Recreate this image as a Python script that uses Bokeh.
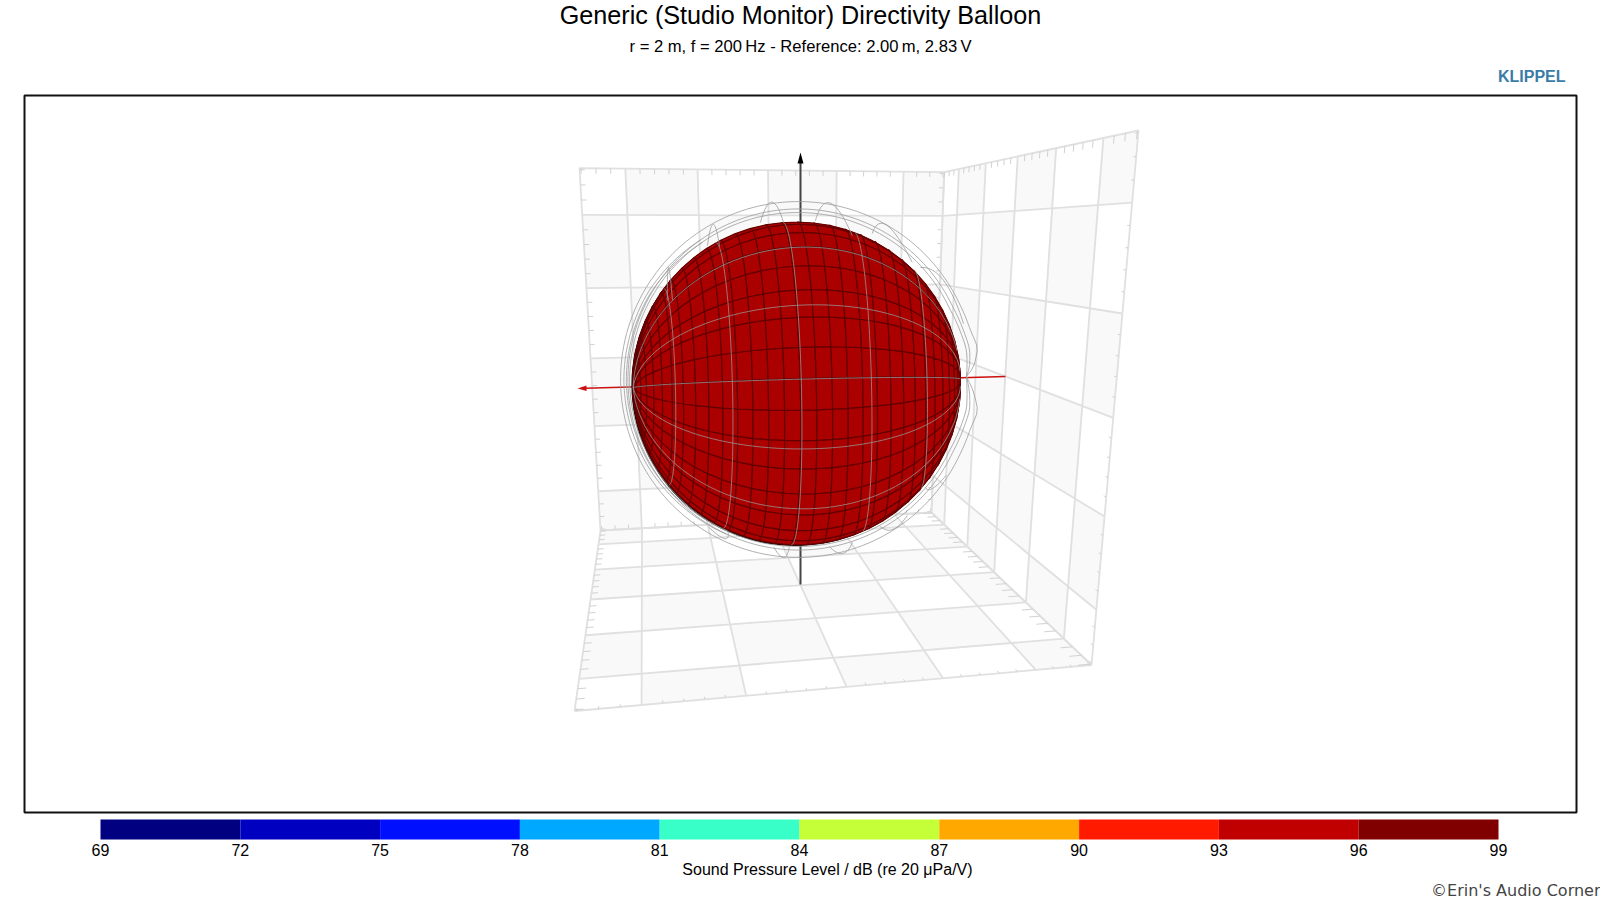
import numpy as np
from bokeh.plotting import figure
from bokeh.models import Range1d
from bokeh.core.properties import value
from bokeh.embed import file_html
from bokeh.resources import INLINE

TITLE = "Generic (Studio Monitor) Directivity Balloon"
SUBTITLE = "r = 2 m, f = 200\u2009Hz - Reference: 2.00\u2009m, 2.83\u2009V"
BAND_EDGES = [69, 72, 75, 78, 81, 84, 87, 90, 93, 96, 99]
BAND_COLORS = ["#000080", "#0000c0", "#0010ff", "#00a8ff", "#38ffc8", "#c4ff38", "#ffa800", "#ff1a00", "#c00000", "#800000"]

# 3D box: half size and grid positions (data units)
W = 2.62
GRID = [-2, -1, 0, 1, 2]
# projected corners of the box walls (camera calibration)
corner_A = (579, 167.7); corner_B = (943.7, 171.7); corner_C = (1138, 130)
corner_D = (1091, 664.5); corner_E = (931, 512); corner_F = (600, 530); corner_G = (574, 710.5)

# balloon: centre, radii in the picture, orientation
cx, cy, Rx, Ry = 796.0, 383.0, 164.0, 161.5
pole_tilt, roll = np.radians(5.0), np.radians(1.45)
dark_meridian_start, dark_meridian_step = 1.7, 11.25
dark_parallel_start, dark_parallel_step = -3.7, 5.625
gray_meridians = [-51, -24, 1.5, 29, 57.5]
gray_parallels = [-52.6, -28, -3.3, 22.2, 47.8]

# outer polar curves: angle (deg), radius relative to the balloon radius
ring_cx, ring_cy = 798.0, 379.0
ring_angles = [1, 4, 10, 16, 25, 90, 180, 270, 335, 344, 350, 356, 361]
ring_1 = [1.024, 1.07, 1.11, 1.09, 1.085, 1.085, 1.085, 1.085, 1.085, 1.09, 1.11, 1.07, 1.024]
ring_2 = [1.024, 1.045, 1.06, 1.05, 1.04, 1.04, 1.04, 1.04, 1.04, 1.05, 1.06, 1.045, 1.024]
ring_3 = [1.024, 1.03, 1.04, 1.03, 1.018, 1.018, 1.03, 1.018, 1.018, 1.03, 1.04, 1.03, 1.024]
arc_angles = [125, 150, 180, 210, 245]
arc_1 = [1.04, 1.06, 1.065, 1.06, 1.04]
arc_2 = [1.02, 1.045, 1.05, 1.045, 1.02]
lobe_angles = [
    [102.8, 97.9, 94.7], [83.3, 79.2, 69.1], [123.2, 117.9, 119.7], [147.9, 138.3, 146.8],
    [62.9, 59.8, 45.9], [42.6, 34.5, 19.1], [262.2, 265.8, 267.5], [281.3, 285.0, 289.2],
    [299.9, 303.0, 309.6], [320.6, 321.8, 327.9], [238.9, 245.3, 245.6]]
lobe_radii = [
    [0.994, 1.104, 0.975], [0.987, 1.107, 0.953], [0.991, 1.084, 0.947], [0.93, 1.045, 0.904],
    [1.014, 1.10, 1.013], [1.027, 1.088, 1.078], [1.02, 1.076, 1.011], [1.026, 1.086, 1.038],
    [1.013, 1.076, 1.06], [1.015, 1.055, 1.077], [1.037, 1.054, 1.009]]

# coordinate axes through the balloon
z_axis_x = [800, 800]; z_axis_y = [160, 584]
red_axis_x = [1005, 585]; red_axis_y = [376, 387.8]
z_tip = (800, 152); red_tip = (577, 388)

GRID_COLOR = "#e0e0e0"
SHADE = "#f9f9f9"
FONT = "Liberation Sans"

# figure coordinates are page pixels
p = figure(width=1600, height=900, output_backend="svg", toolbar_location=None,
           x_axis_location=None, y_axis_location=None,
           x_range=Range1d(0, 1600), y_range=Range1d(900, 0),
           min_border_left=0, min_border_right=0, min_border_top=0, min_border_bottom=0)
p.grid.visible = False
p.outline_line_color = None
# dB scale of the colour bar: 69 dB at page x=100, 99 dB at page x=1498
db_per_px = 30 / 1398
p.extra_x_ranges["db"] = Range1d(69 - 100 * db_per_px, 99 + (1600 - 1498) * db_per_px)

p.quad(left=[24], right=[1576], top=[95], bottom=[812], fill_color=None, line_color="#111111", line_width=2)


def homography(c0, c1, c2, c3):
    src = [(-W, -W), (W, -W), (W, W), (-W, W)]
    a, b = [], []
    for (s, t), (x, y) in zip(src, [c0, c1, c2, c3]):
        a.append([s, t, 1, 0, 0, 0, -s * x, -t * x]); b.append(x)
        a.append([0, 0, 0, s, t, 1, -s * y, -t * y]); b.append(y)
    h = np.linalg.solve(np.array(a), np.array(b))
    return np.append(h, 1).reshape(3, 3)


def project(H, s, t):
    s, t = np.asarray(s, float), np.asarray(t, float)
    w = H[2, 0] * s + H[2, 1] * t + H[2, 2]
    return (H[0, 0] * s + H[0, 1] * t + H[0, 2]) / w, (H[1, 0] * s + H[1, 1] * t + H[1, 2]) / w


edges = [-W] + GRID + [W]
back = homography(corner_F, corner_E, corner_B, corner_A)
right = homography(corner_E, corner_D, corner_C, corner_B)
floor = homography(corner_G, corner_D, corner_E, corner_F)
walls = [
    (back, True, [("t", W, -1, .07), ("s", -W, 1, .07), ("s", W, -1, .07), ("t", -W, 1, .07)]),
    (right, True, [("t", W, -1, .07), ("s", W, -1, .05)]),
    (floor, False, [("s", -W, 1, .08), ("s", W, -1, .14), ("t", -W, 1, .05)]),
]
minor = [k * .2 for k in range(-13, 14) if k % 5 != 0]

for H, from_top, _ in walls:
    xs, ys = [], []
    for i in range(6):
        for j in range(6):
            if (i + j) % 2 == 0:
                continue
            s0, s1 = edges[i], edges[i + 1]
            if from_top:
                t0, t1 = edges[5 - j], edges[6 - j]
            else:
                t0, t1 = edges[j], edges[j + 1]
            x, y = project(H, [s0, s1, s1, s0], [t0, t0, t1, t1])
            xs.append(list(x)); ys.append(list(y))
    p.patches(xs, ys, fill_color=SHADE, line_color=None)

for H, _, ticks in walls:
    lx, ly = [], []
    for g in GRID:
        x, y = project(H, [g, g], [-W, W]); lx.append(list(x)); ly.append(list(y))
        x, y = project(H, [-W, W], [g, g]); lx.append(list(x)); ly.append(list(y))
    x, y = project(H, [-W, W, W, -W, -W], [-W, -W, W, W, -W]); lx.append(list(x)); ly.append(list(y))
    p.multi_line(lx, ly, line_color=GRID_COLOR, line_width=1.8)
    tx, ty = [], []
    for kind, pos, sign, ln in ticks:
        for m in minor:
            if kind == "t":
                x, y = project(H, [m, m], [pos, pos + sign * ln])
            else:
                x, y = project(H, [pos, pos + sign * ln], [m, m])
            tx.append(list(x)); ty.append(list(y))
    p.multi_line(tx, ty, line_color="#d2d2d2", line_width=1)

# axes behind the balloon
p.line(red_axis_x, red_axis_y, line_color="#cc1111", line_width=1.6)
p.line(z_axis_x, z_axis_y, line_color="#444444", line_width=2)


def head(tip, tail, length, half):
    d = np.array(tail, float) - np.array(tip, float)
    d /= np.linalg.norm(d)
    n = np.array([-d[1], d[0]])
    b = np.array(tip) + d * length
    pts = [np.array(tip), b + n * half, b - n * half]
    return [q[0] for q in pts], [q[1] for q in pts]


hx, hy = head(z_tip, (z_axis_x[1], z_axis_y[1]), 11, 3)
p.patch(hx, hy, fill_color="#000000", line_color=None)
hx, hy = head(red_tip, (red_axis_x[0], red_axis_y[0]), 9, 2.8)
p.patch(hx, hy, fill_color="#cc1111", line_color=None)

# balloon
axis_a = np.array([np.cos(pole_tilt) * np.cos(roll), np.cos(pole_tilt) * np.sin(roll), -np.sin(pole_tilt)])
axis_u = np.array([-np.sin(roll), np.cos(roll), 0.0])
axis_f = np.array([np.sin(pole_tilt) * np.cos(roll), np.sin(pole_tilt) * np.sin(roll), np.cos(pole_tilt)])


def balloon(lat, mer):
    l, f = np.radians(np.asarray(lat, float)), np.radians(np.asarray(mer, float))
    l, f = np.broadcast_arrays(l, f)
    P = (np.sin(l)[..., None] * axis_a +
         (np.cos(l) * np.sin(f))[..., None] * axis_u +
         (np.cos(l) * np.cos(f))[..., None] * axis_f)
    return cx + Rx * P[..., 0], cy - Ry * P[..., 1], P[..., 2]


theta = np.radians(np.arange(0, 361, 3))
p.patch(cx - 1.3 + (Rx - .2) * np.cos(theta), cy + 1.2 + (Ry - .2) * np.sin(theta), fill_color="#000000", line_color=None)
p.patch(cx + Rx * np.cos(theta), cy + Ry * np.sin(theta), fill_color="#aa0000", line_color=None)

cell_x, cell_y = [], []
lat_edges = [-90.0] + [dark_parallel_start + dark_parallel_step * k for k in range(-15, 17)] + [90.0]
mer_edges = [dark_meridian_start + dark_meridian_step * k for k in range(-16, 17)]
for i in range(len(lat_edges) - 1):
    for j in range(len(mer_edges) - 1):
        la0, la1 = lat_edges[i], lat_edges[i + 1]
        f0, f1 = mer_edges[j], mer_edges[j + 1]
        f_up = np.linspace(f0, f1, 5)
        lats = np.r_[np.full(5, la0), np.full(5, la1)]
        mers = np.r_[f_up, f_up[::-1]]
        x, y, z = balloon(lats, mers)
        if z.mean() > -0.02:
            cell_x.append(x.tolist()); cell_y.append(y.tolist())
p.patches(cell_x, cell_y, fill_color="#aa0000", line_color="#640000", line_width=1.2)

lx, ly = [], []
sweep = np.linspace(-90, 90, 61)
for m in gray_meridians:
    x, y, z = balloon(sweep, np.full(61, m))
    keep = z > 0
    lx.append(x[keep].tolist()); ly.append(y[keep].tolist())
for l_ in gray_parallels:
    x, y, z = balloon(np.full(61, l_), sweep)
    keep = z > 0
    lx.append(x[keep].tolist()); ly.append(y[keep].tolist())
p.multi_line(lx, ly, line_color="#999999", line_width=0.9, line_alpha=0.85)

# outer polar curves
rx, ry = [], []
fine = np.arange(1, 361.01, 2.0)
for r in [ring_1, ring_2, ring_3]:
    rr = np.interp(fine, ring_angles, r) * Rx
    rx.append((ring_cx + rr * np.cos(np.radians(fine))).tolist())
    ry.append((ring_cy - rr * np.sin(np.radians(fine))).tolist())
fine = np.arange(125, 245.01, 2.0)
for r in [arc_1, arc_2]:
    rr = np.interp(fine, arc_angles, r) * Rx
    rx.append((ring_cx + rr * np.cos(np.radians(fine))).tolist())
    ry.append((ring_cy - rr * np.sin(np.radians(fine))).tolist())
u = np.linspace(0, 1, 21)
for ang, rad in zip(lobe_angles, lobe_radii):
    b0 = [(1 - u) * (1 - 2 * u), 4 * u * (1 - u), u * (2 * u - 1)]
    xx = sum(b * (cx + rr * Rx * np.cos(np.radians(a))) for b, a, rr in zip(b0, ang, rad))
    yy = sum(b * (cy - 2 - rr * Rx * np.sin(np.radians(a))) for b, a, rr in zip(b0, ang, rad))
    rx.append(xx.tolist()); ry.append(yy.tolist())
p.multi_line(rx, ry, line_color="#9c9c9c", line_width=0.8)

# colour bar and its scale
p.quad(left=BAND_EDGES[:-1], right=BAND_EDGES[1:], bottom=[839] * 10, top=[819] * 10,
       fill_color=BAND_COLORS, line_color=None, x_range_name="db")
p.text(x=BAND_EDGES, y=[849.5] * 11, text=[str(v) for v in BAND_EDGES], x_range_name="db",
       text_align="center", text_baseline="middle", text_font=value(FONT), text_font_size="16px", text_color="#000000")
p.text(x=[84.6], y=[869], text=["Sound Pressure Level / dB (re 20 \u03bcPa/V)"], x_range_name="db",
       text_align="center", text_baseline="middle", text_font=value(FONT), text_font_size="16px", text_color="#000000")

# texts
p.text(x=[800], y=[14.5], text=[TITLE], text_align="center", text_baseline="middle",
       text_font=value(FONT), text_font_size="25.2px", text_color="#000000")
p.text(x=[800], y=[46], text=[SUBTITLE], text_align="center", text_baseline="middle",
       text_font=value(FONT), text_font_size="16.6px", text_color="#000000")
p.text(x=[1565], y=[76], text=["KLIPPEL"], text_align="right", text_baseline="middle",
       text_font=value(FONT), text_font_size="16px", text_font_style="bold", text_color="#3a7ca8")
p.text(x=[1600], y=[890], text=["\u00a9Erin's Audio Corner"], text_align="right", text_baseline="middle",
       text_font=value("DejaVu Sans"), text_font_size="16px", text_color="#444444")

open("out.html", "w").write(file_html(p, INLINE))
